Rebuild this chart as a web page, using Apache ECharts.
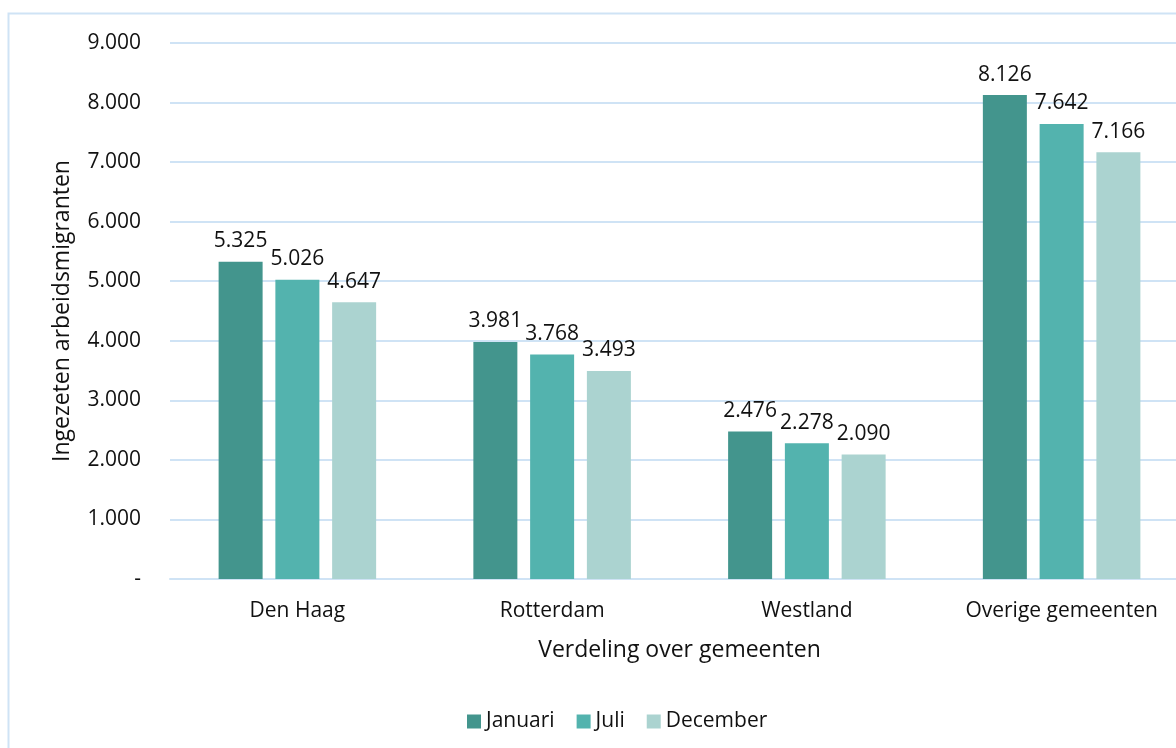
<!DOCTYPE html>
<html>
<head>
<meta charset="utf-8">
<script src="https://cdn.jsdelivr.net/npm/echarts@6/dist/echarts.min.js"></script>
<style>
  html, body { margin: 0; padding: 0; background: #fff; overflow: hidden; }
  #wrap { width: 1176px; height: 748px; overflow: hidden; position: relative; }
  #chart { width: 1189px; height: 748px; }
</style>
</head>
<body>
<div id="wrap"><div id="chart"></div></div>
<script>
// Aantal ingezeten arbeidsmigranten per gemeente
const categories = ['Den Haag', 'Rotterdam', 'Westland', 'Overige gemeenten'];
const seriesNames = ['Januari', 'Juli', 'December'];
const januari = [5325, 3981, 2476, 8126];
const juli = [5026, 3768, 2278, 7642];
const december = [4647, 3493, 2090, 7166];
const colors = ['#43958D', '#53B3AE', '#ABD3D0'];

const fontFamily = '"Open Sans", "Noto Sans", sans-serif';
const fmtNum = v => v === 0 ? '-' : String(v).replace(/\B(?=(\d{3})+(?!\d))/g, '.');

const chart = echarts.init(document.getElementById('chart'), null, { renderer: 'canvas' });

const makeSeries = (name, data, color) => ({
  name,
  type: 'bar',
  data,
  barWidth: 44,
  barGap: '29%',
  itemStyle: { color },
  label: {
    show: true,
    position: 'top',
    distance: 10,
    color: '#111',
    fontSize: 21,
    fontFamily,
    formatter: p => fmtNum(p.value)
  }
});

chart.setOption({
  animation: false,
  graphic: [{
    type: 'rect',
    shape: { x: 8.5, y: 13.5, width: 1200, height: 800 },
    style: { fill: 'none', stroke: '#CFE3F5', lineWidth: 2 }
  }],
  grid: { left: 170, right: 0, top: 43, bottom: 169, containLabel: false },
  legend: {
    data: seriesNames,
    top: 706,
    left: 462,
    icon: 'rect',
    itemWidth: 14,
    itemHeight: 14,
    itemGap: 22,
    textStyle: { fontSize: 21, color: '#111', fontFamily }
  },
  xAxis: {
    type: 'category',
    data: categories,
    name: 'Verdeling over gemeenten',
    nameLocation: 'middle',
    nameGap: 60,
    nameTextStyle: { fontSize: 23, color: '#111', fontFamily },
    axisLine: { lineStyle: { color: '#CFE3F5', width: 2 } },
    axisTick: { show: false },
    axisLabel: { fontSize: 21, color: '#111', fontFamily, margin: 22 }
  },
  yAxis: {
    type: 'value',
    min: 0,
    max: 9000,
    interval: 1000,
    name: 'Ingezeten arbeidsmigranten',
    nameLocation: 'middle',
    nameGap: 96,
    nameTextStyle: { fontSize: 23, color: '#111', fontFamily },
    axisLine: { show: false },
    axisTick: { show: false },
    splitLine: { lineStyle: { color: '#CFE3F5', width: 2 } },
    axisLabel: { fontSize: 21, color: '#111', fontFamily, margin: 29, formatter: fmtNum }
  },
  series: [
    makeSeries(seriesNames[0], januari, colors[0]),
    makeSeries(seriesNames[1], juli, colors[1]),
    makeSeries(seriesNames[2], december, colors[2])
  ]
});
</script>
</body>
</html>
